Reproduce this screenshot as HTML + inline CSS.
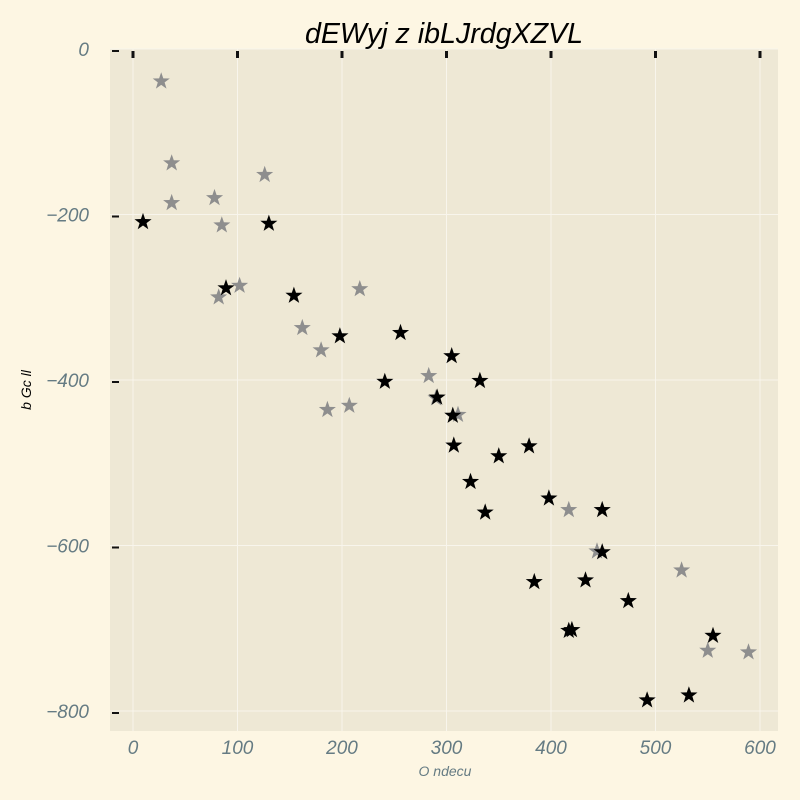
<!DOCTYPE html>
<html><head><meta charset="utf-8"><style>
body{margin:0;background:#fdf6e3;overflow:hidden;}
svg{display:block;}
svg text{font-family:"Liberation Sans",sans-serif;}
</style></head><body>
<svg id="chart" width="800" height="800" xmlns="http://www.w3.org/2000/svg">
<rect width="800" height="800" fill="#fdf6e3"/>
<rect x="110" y="49" width="668" height="682" fill="#eee8d5"/>
<g id="grid"></g><g id="ticks"></g><g id="marks"></g>
<text x="444" y="43" text-anchor="middle" font-size="28.6" font-style="italic" fill="#000">dEWyj z ibLJrdgXZVL</text>
<text x="445" y="776" text-anchor="middle" font-size="14" font-style="italic" fill="#657b83">O ndecu</text>
<text x="31" y="390" text-anchor="middle" font-size="14" font-style="italic" fill="#000" transform="rotate(-90 31 390)">b Gc ll</text>
</svg>
<script>
const xTicks=[0,100,200,300,400,500,600];
const yTicks=[0,-200,-400,-600,-800];
const blackX=[9.6,130,89,154,198,256,241,305,332,291,306,307,323,350,379,337,398,449,384,433,449,474,417,420,492,532,555];
const blackY=[-209,-211,-289,-298,-347,-343,-402,-371,-401,-421,-443,-479,-523,-492,-480,-560,-543,-557,-644,-642,-608,-667,-703,-702,-787,-781,-709];
const grayX=[27,37,37,126,78,85,102,82,217,162,180,186,207,283,290,311,417,444,525,550,589];
const grayY=[-39,-138,-186,-152,-180,-213,-286,-300,-290,-337,-364,-436,-431,-395,-422,-442,-557,-607,-630,-727,-729];
const NS="http://www.w3.org/2000/svg";
function sx(v){return 133+v*1.045;}
function sy(v){return 49-v*0.8275;}
function mk(t,a,p){const e=document.createElementNS(NS,t);for(const k in a)e.setAttribute(k,a[k]);document.getElementById(p).appendChild(e);return e;}
xTicks.forEach(v=>{
 const g=mk('line',{x1:sx(v),x2:sx(v),y1:49,y2:731,stroke:'#f8f5ec','stroke-width':1},'grid');
 
 
 const t=mk('rect',{x:sx(v)-1.5,y:51,width:3,height:7,fill:'#111'},'ticks');
 
 
 const l=mk('text',{x:sx(v),y:754,'text-anchor':'middle','font-size':19,'font-style':'italic',fill:'#657b83'},'ticks');
 l.textContent=v;
 
 
});
yTicks.forEach(v=>{
 const g=mk('line',{x1:110,x2:778,y1:sy(v),y2:sy(v),stroke:'#f8f5ec','stroke-width':1},'grid');
 
 
 const t=mk('rect',{x:112,y:sy(v)+1,width:7,height:2,fill:'#111'},'ticks');
 
 
 const l=mk('text',{x:89,y:sy(v)+7,'text-anchor':'end','font-size':19,'font-style':'italic',fill:'#657b83'},'ticks');
 l.textContent=v<0?'\u2212'+(-v):v;
 
 
});
function star(cx,cy,r){let p=[];for(let i=0;i<10;i++){const a=-Math.PI/2+i*Math.PI/5;const rr=i%2?r*0.4:r;p.push((cx+rr*Math.cos(a)).toFixed(1)+','+(cy+rr*Math.sin(a)).toFixed(1));}return p.join(' ');}
grayX.forEach((v,i)=>{
 const s=mk('polygon',{points:star(sx(v),sy(grayY[i]),9),fill:'#8e8e8e'},'marks');
 
 
});
blackX.forEach((v,i)=>{
 const s=mk('polygon',{points:star(sx(v),sy(blackY[i]),9),fill:'#000'},'marks');
 
 
});
</script>
</body></html>
